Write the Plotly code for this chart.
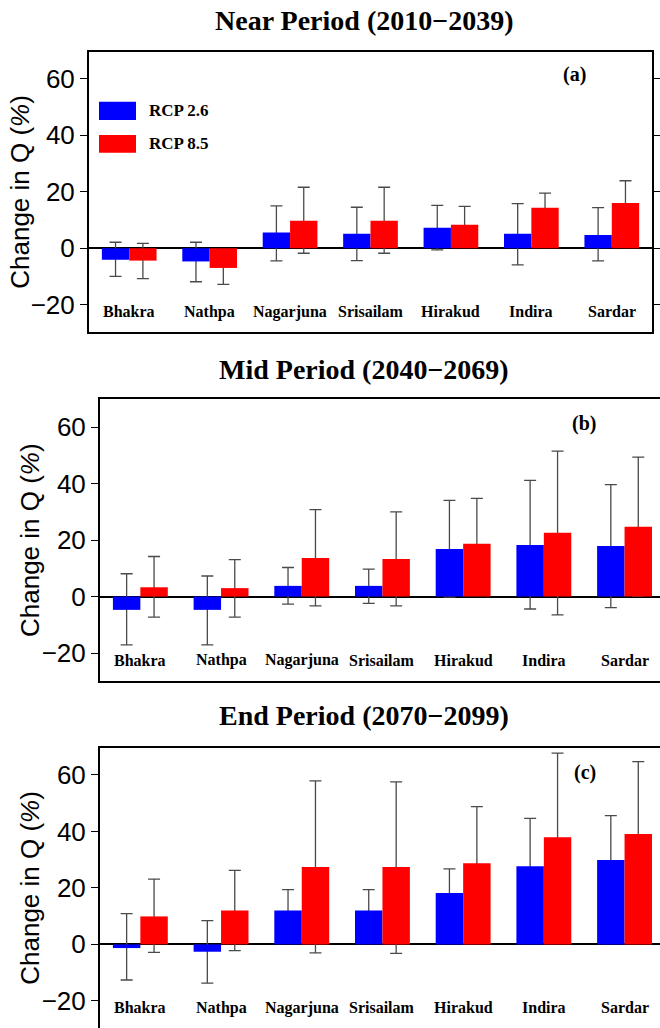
import plotly.graph_objects as go

W, H = 660, 1028

categories = ["Bhakra", "Nathpa", "Nagarjuna", "Srisailam", "Hirakud", "Indira", "Sardar"]
series_names = ["RCP 2.6", "RCP 8.5"]
titles = ["Near Period (2010\u22122039)", "Mid Period (2040\u22122069)", "End Period (2070\u22122099)"]
panel_tags = ["(a)", "(b)", "(c)"]
y_ticks = [-20, 0, 20, 40, 60]

# Panel (a) Near period
near_rcp26 = [-4.1, -4.7, 5.6, 5.1, 7.2, 5.1, 4.7]
near_rcp26_hi = [2.1, 2.1, 15.0, 14.5, 15.2, 15.8, 14.4]
near_rcp26_lo = [-10.0, -11.9, -4.5, -4.4, -0.6, -5.9, -4.5]
near_rcp85 = [-4.4, -7.0, 9.7, 9.7, 8.3, 14.3, 16.0]
near_rcp85_hi = [1.7, -1.2, 21.6, 21.6, 14.8, 19.5, 23.9]
near_rcp85_lo = [-10.8, -12.8, -1.8, -1.8, 1.8, 9.1, 8.1]

# Panel (b) Mid period
mid_rcp26 = [-4.7, -4.7, 3.8, 3.8, 16.9, 18.3, 17.9]
mid_rcp26_hi = [8.1, 7.3, 10.3, 9.7, 34.1, 41.2, 39.7]
mid_rcp26_lo = [-17.1, -17.1, -2.7, -2.4, -0.2, -4.4, -3.9]
mid_rcp85 = [3.3, 3.0, 13.7, 13.3, 18.7, 22.6, 24.7]
mid_rcp85_hi = [14.2, 13.1, 30.8, 30.0, 34.8, 51.5, 49.4]
mid_rcp85_lo = [-7.3, -7.3, -3.3, -3.3, 2.6, -6.5, 0.2]

# Panel (c) End period
end_rcp26 = [-1.3, -2.6, 12.0, 12.0, 18.2, 27.7, 29.9]
end_rcp26_hi = [10.9, 8.4, 19.4, 19.4, 26.7, 44.6, 45.6]
end_rcp26_lo = [-12.6, -13.7, 4.6, 4.6, 9.7, 10.8, 14.2]
end_rcp85 = [9.9, 12.0, 27.4, 27.4, 28.7, 37.9, 39.1]
end_rcp85_hi = [23.1, 26.2, 57.9, 57.5, 48.8, 67.7, 64.7]
end_rcp85_lo = [-2.8, -2.2, -3.0, -3.2, 8.6, 8.1, 13.5]

panels = [
    (near_rcp26, near_rcp26_hi, near_rcp26_lo, near_rcp85, near_rcp85_hi, near_rcp85_lo),
    (mid_rcp26, mid_rcp26_hi, mid_rcp26_lo, mid_rcp85, mid_rcp85_hi, mid_rcp85_lo),
    (end_rcp26, end_rcp26_hi, end_rcp26_lo, end_rcp85, end_rcp85_hi, end_rcp85_lo),
]

colors = ["#0000FF", "#FF0000"]
err_color = "#4a4a4a"

# layout geometry (pixels)
x_px = [(89, 652), (100, 660), (100, 660)]
y_px = [(51.5, 332), (399, 681), (747.5, 1028)]
y_rng = [[-29.7, 69.7], [-29.9, 70.0], [-29.6, 69.7]]
x_rng = [[-0.5, 6.5], [-0.5, -0.5 + 560 / 80.7], [-0.5, -0.5 + 560 / 80.7]]
title_y = [20, 369, 715]
tag_xy = [(574, 75), (584, 423), (585, 772)]
ytitle_x = [20, 30, 30]

serif = "Liberation Serif"
sans = "Liberation Sans"

fig = go.Figure()
annotations = []
shapes = []

for i, (b, bhi, blo, r, rhi, rlo) in enumerate(panels):
    xa = "x" if i == 0 else f"x{i+1}"
    ya = "y" if i == 0 else f"y{i+1}"
    groups = [(b, bhi, blo, colors[0], "g0", series_names[0]),
              (r, rhi, rlo, colors[1], "g1", series_names[1])]
    # error bars first (drawn behind bars)
    for vals, hi, lo, col, og, name in groups:
        fig.add_trace(go.Bar(
            x=categories, y=vals, xaxis=xa, yaxis=ya, offsetgroup=og,
            marker=dict(color="rgba(0,0,0,0)", line=dict(width=0)),
            error_y=dict(type="data", symmetric=False,
                         array=[h - v for h, v in zip(hi, vals)],
                         arrayminus=[v - l for l, v in zip(lo, vals)],
                         color=err_color, thickness=1.3, width=6),
            showlegend=False, hoverinfo="skip"))
    for vals, hi, lo, col, og, name in groups:
        fig.add_trace(go.Bar(
            x=categories, y=vals, xaxis=xa, yaxis=ya, offsetgroup=og,
            marker=dict(color=col, line=dict(width=0)),
            name=name, showlegend=False))

    xd = [x_px[i][0] / W, x_px[i][1] / W]
    yd = [1 - y_px[i][1] / H, 1 - y_px[i][0] / H]
    xkey = "xaxis" if i == 0 else f"xaxis{i+1}"
    ykey = "yaxis" if i == 0 else f"yaxis{i+1}"
    fig.update_layout(**{
        xkey: dict(domain=xd, range=x_rng[i], anchor=ya, showticklabels=False,
                   ticks="", showline=True, mirror=True, linecolor="black",
                   linewidth=2, showgrid=False, zeroline=False, fixedrange=True),
        ykey: dict(domain=yd, range=y_rng[i], anchor=xa, tickvals=y_ticks,
                   ticks="outside", ticklen=7, tickwidth=1, tickcolor="black",
                   showline=True, mirror=("ticks" if i == 0 else False),
                   linecolor="black", linewidth=2, showgrid=False,
                   zeroline=True, zerolinecolor="black", zerolinewidth=2,
                   tickfont=dict(family=sans, size=26, color="black"),
                   fixedrange=True),
    })

    # category labels inside the plot
    for c in categories:
        annotations.append(dict(x=c, y=-22.5, xref=xa, yref=ya, text=f"<b>{c}</b>",
                                showarrow=False, font=dict(family=serif, size=16, color="black"),
                                xanchor="center", yanchor="middle"))
    # panel title
    annotations.append(dict(x=364 / W, y=1 - title_y[i] / H, xref="paper", yref="paper",
                            text=f"<b>{titles[i]}</b>", showarrow=False,
                            font=dict(family=serif, size=28, color="black"),
                            xanchor="center", yanchor="middle"))
    # panel tag
    annotations.append(dict(x=tag_xy[i][0] / W, y=1 - tag_xy[i][1] / H, xref="paper", yref="paper",
                            text=f"<b>{panel_tags[i]}</b>", showarrow=False,
                            font=dict(family=serif, size=20, color="black"),
                            xanchor="center", yanchor="middle"))
    # y axis title
    annotations.append(dict(x=ytitle_x[i] / W, y=0.5, xref="paper", yref=f"{ya} domain",
                            text="Change in Q (<i>%</i>)", textangle=-90, showarrow=False,
                            font=dict(family=sans, size=26, color="black"),
                            xanchor="center", yanchor="middle"))

# legend (panel a), drawn as boxes + labels
legend_rows = [(101.7, 120.0), (135.0, 152.7)]
for (y0, y1), col, name in zip(legend_rows, colors, series_names):
    shapes.append(dict(type="rect", xref="paper", yref="paper",
                       x0=99 / W, x1=136 / W, y0=1 - y1 / H, y1=1 - y0 / H,
                       fillcolor=col, line=dict(width=0)))
    annotations.append(dict(x=147 / W, y=1 - (y0 + y1) / 2 / H, xref="paper", yref="paper",
                            text=f"<b>{name}</b>", showarrow=False,
                            font=dict(family=serif, size=17, color="black"),
                            xanchor="left", yanchor="middle"))

fig.update_layout(
    width=W, height=H, margin=dict(l=0, r=0, t=0, b=0),
    paper_bgcolor="white", plot_bgcolor="white",
    barmode="group", bargap=0.32, bargroupgap=0.0,
    showlegend=False, annotations=annotations, shapes=shapes,
)

fig.write_html("out.html")
